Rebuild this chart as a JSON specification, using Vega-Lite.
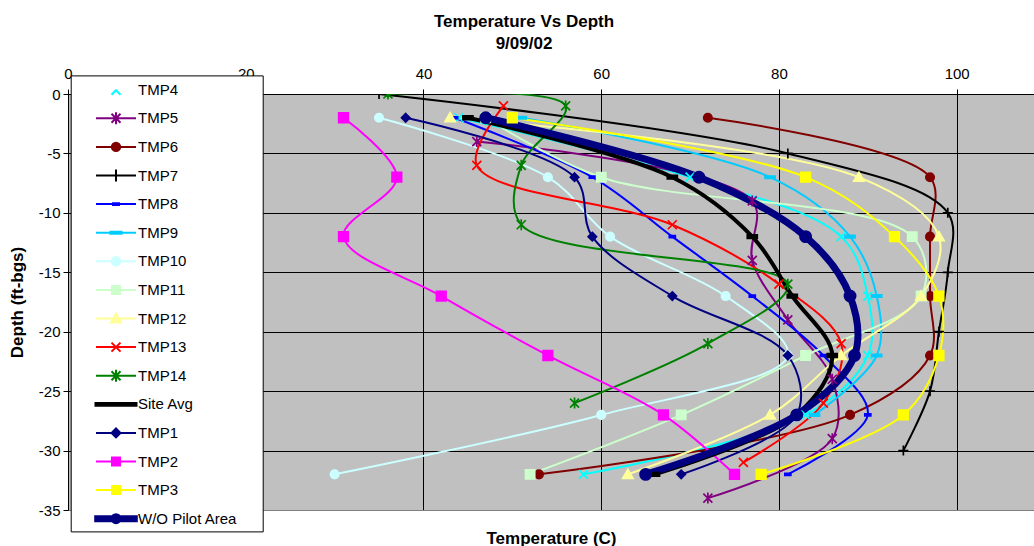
{
  "$schema": "https://vega.github.io/schema/vega-lite/v6.json",
  "autosize": {"type": "none"},
  "width": 966,
  "height": 416,
  "padding": {"left": 68, "top": 94, "right": 0, "bottom": 36},
  "background": "white",
  "config": {
    "font": "Liberation Sans",
    "view": {"fill": "#C0C0C0", "stroke": null}
  },
  "title": {
    "text": ["Temperature Vs Depth", "9/09/02"],
    "font": "Liberation Sans",
    "fontSize": 17,
    "fontWeight": "bold",
    "color": "black",
    "anchor": "middle",
    "frame": "group",
    "dx": -27,
    "lineHeight": 22,
    "offset": 13
  },
  "data": {
    "values": [
      {"s": "TMP4", "t": 44, "d": -2}, {"s": "TMP4", "t": 70, "d": -7}, {"s": "TMP4", "t": 87, "d": -12}, {"s": "TMP4", "t": 90, "d": -17}, {"s": "TMP4", "t": 90, "d": -22}, {"s": "TMP4", "t": 83, "d": -27}, {"s": "TMP4", "t": 58, "d": -32},
      {"s": "TMP5", "t": 46, "d": -4}, {"s": "TMP5", "t": 77, "d": -9}, {"s": "TMP5", "t": 77, "d": -14}, {"s": "TMP5", "t": 81, "d": -19}, {"s": "TMP5", "t": 86, "d": -24}, {"s": "TMP5", "t": 86, "d": -29}, {"s": "TMP5", "t": 72, "d": -34},
      {"s": "TMP6", "t": 72, "d": -2}, {"s": "TMP6", "t": 97, "d": -7}, {"s": "TMP6", "t": 97, "d": -12}, {"s": "TMP6", "t": 97, "d": -17}, {"s": "TMP6", "t": 97, "d": -22}, {"s": "TMP6", "t": 88, "d": -27}, {"s": "TMP6", "t": 53, "d": -32},
      {"s": "TMP7", "t": 35, "d": 0}, {"s": "TMP7", "t": 81, "d": -5}, {"s": "TMP7", "t": 99, "d": -10}, {"s": "TMP7", "t": 99, "d": -15}, {"s": "TMP7", "t": 98, "d": -20}, {"s": "TMP7", "t": 97, "d": -25}, {"s": "TMP7", "t": 94, "d": -30},
      {"s": "TMP8", "t": 43.5, "d": -2}, {"s": "TMP8", "t": 59, "d": -7}, {"s": "TMP8", "t": 68, "d": -12}, {"s": "TMP8", "t": 77, "d": -17}, {"s": "TMP8", "t": 85, "d": -22}, {"s": "TMP8", "t": 90, "d": -27}, {"s": "TMP8", "t": 81, "d": -32},
      {"s": "TMP9", "t": 51, "d": -2}, {"s": "TMP9", "t": 79, "d": -7}, {"s": "TMP9", "t": 88, "d": -12}, {"s": "TMP9", "t": 91, "d": -17}, {"s": "TMP9", "t": 91, "d": -22}, {"s": "TMP9", "t": 84, "d": -27},
      {"s": "TMP10", "t": 35, "d": -2}, {"s": "TMP10", "t": 54, "d": -7}, {"s": "TMP10", "t": 61, "d": -12}, {"s": "TMP10", "t": 74, "d": -17}, {"s": "TMP10", "t": 81, "d": -22}, {"s": "TMP10", "t": 60, "d": -27}, {"s": "TMP10", "t": 30, "d": -32},
      {"s": "TMP11", "t": 47, "d": -2}, {"s": "TMP11", "t": 60, "d": -7}, {"s": "TMP11", "t": 95, "d": -12}, {"s": "TMP11", "t": 96, "d": -17}, {"s": "TMP11", "t": 83, "d": -22}, {"s": "TMP11", "t": 69, "d": -27}, {"s": "TMP11", "t": 52, "d": -32},
      {"s": "TMP12", "t": 43, "d": -2}, {"s": "TMP12", "t": 89, "d": -7}, {"s": "TMP12", "t": 98, "d": -12}, {"s": "TMP12", "t": 96, "d": -17}, {"s": "TMP12", "t": 87, "d": -22}, {"s": "TMP12", "t": 79, "d": -27}, {"s": "TMP12", "t": 63, "d": -32},
      {"s": "TMP13", "t": 49, "d": -1}, {"s": "TMP13", "t": 46, "d": -6}, {"s": "TMP13", "t": 68, "d": -11}, {"s": "TMP13", "t": 80, "d": -16}, {"s": "TMP13", "t": 87, "d": -21}, {"s": "TMP13", "t": 85, "d": -26}, {"s": "TMP13", "t": 76, "d": -31},
      {"s": "TMP14", "t": 36, "d": 0}, {"s": "TMP14", "t": 56, "d": -1}, {"s": "TMP14", "t": 51, "d": -6}, {"s": "TMP14", "t": 51, "d": -11}, {"s": "TMP14", "t": 81, "d": -16}, {"s": "TMP14", "t": 72, "d": -21}, {"s": "TMP14", "t": 57, "d": -26},
      {"s": "Site Avg", "t": 45, "d": -2}, {"s": "Site Avg", "t": 68, "d": -7}, {"s": "Site Avg", "t": 77, "d": -12}, {"s": "Site Avg", "t": 81.5, "d": -17}, {"s": "Site Avg", "t": 86, "d": -22}, {"s": "Site Avg", "t": 82, "d": -27}, {"s": "Site Avg", "t": 66, "d": -32},
      {"s": "TMP1", "t": 38, "d": -2}, {"s": "TMP1", "t": 57, "d": -7}, {"s": "TMP1", "t": 59, "d": -12}, {"s": "TMP1", "t": 68, "d": -17}, {"s": "TMP1", "t": 81, "d": -22}, {"s": "TMP1", "t": 82, "d": -27}, {"s": "TMP1", "t": 69, "d": -32},
      {"s": "TMP2", "t": 31, "d": -2}, {"s": "TMP2", "t": 37, "d": -7}, {"s": "TMP2", "t": 31, "d": -12}, {"s": "TMP2", "t": 42, "d": -17}, {"s": "TMP2", "t": 54, "d": -22}, {"s": "TMP2", "t": 67, "d": -27}, {"s": "TMP2", "t": 75, "d": -32},
      {"s": "TMP3", "t": 50, "d": -2}, {"s": "TMP3", "t": 83, "d": -7}, {"s": "TMP3", "t": 93, "d": -12}, {"s": "TMP3", "t": 98, "d": -17}, {"s": "TMP3", "t": 98, "d": -22}, {"s": "TMP3", "t": 94, "d": -27}, {"s": "TMP3", "t": 78, "d": -32},
      {"s": "W/O Pilot Area", "t": 47, "d": -2}, {"s": "W/O Pilot Area", "t": 71, "d": -7}, {"s": "W/O Pilot Area", "t": 83, "d": -12}, {"s": "W/O Pilot Area", "t": 88, "d": -17}, {"s": "W/O Pilot Area", "t": 88.5, "d": -22}, {"s": "W/O Pilot Area", "t": 82, "d": -27}, {"s": "W/O Pilot Area", "t": 65, "d": -32}
    ]
  },
  "resolve": {"axis": {"x": "independent"}},
  "layer": [
    {
      "transform": [{"filter": {"field": "s", "oneOf": ["TMP4", "TMP5", "TMP6", "TMP7", "TMP8", "TMP9", "TMP10", "TMP11", "TMP12", "TMP13", "TMP14", "TMP1", "TMP2", "TMP3"]}}],
      "mark": {"type": "line", "interpolate": "catmull-rom", "clip": true, "strokeWidth": 2},
      "encoding": {
        "x": {
          "field": "t", "type": "quantitative",
          "scale": {"domain": [0, 108.7], "nice": false, "zero": false},
          "axis": {
            "orient": "top", "title": null, "values": [0, 20, 40, 60, 80, 100], "labelFlush": false,
            "grid": true, "gridColor": "black", "gridWidth": 1, "gridOpacity": 1,
            "domainColor": "black", "domainWidth": 1,
            "tickColor": "black", "tickSize": 5, "tickWidth": 1,
            "labelFont": "Liberation Sans", "labelFontSize": 15, "labelColor": "black", "labelPadding": 8
          }
        },
        "y": {
          "field": "d", "type": "quantitative",
          "scale": {"domain": [-35, 0], "nice": false, "zero": false},
          "axis": {
            "values": [0, -5, -10, -15, -20, -25, -30, -35],
            "labelExpr": "'' + datum.value", "labelFlush": false,
            "grid": true,
            "gridColor": {"condition": {"test": "datum.value === -35", "value": "#808080"}, "value": "black"},
            "gridWidth": 1, "gridOpacity": 1,
            "domainColor": "black", "domainWidth": 1,
            "tickColor": "black", "tickSize": 5, "tickWidth": 1,
            "labelFont": "Liberation Sans", "labelFontSize": 15, "labelColor": "black", "labelPadding": 3,
            "title": "Depth (ft-bgs)", "titleFont": "Liberation Sans", "titleFontSize": 17, "titleFontWeight": "bold", "titleColor": "black", "titlePadding": 12
          }
        },
        "order": {"field": "d", "sort": "descending"},
        "stroke": {
          "field": "s", "type": "nominal",
          "scale": {
            "domain": ["TMP4", "TMP5", "TMP6", "TMP7", "TMP8", "TMP9", "TMP10", "TMP11", "TMP12", "TMP13", "TMP14", "Site Avg", "TMP1", "TMP2", "TMP3", "W/O Pilot Area"],
            "range": ["#00FFFF", "#800080", "#800000", "#000000", "#0000FF", "#00CCFF", "#CCFFFF", "#CCFFCC", "#FFFF99", "#FF0000", "#008000", "#000000", "#000080", "#FF00FF", "#FFFF00", "#000080"]
          },
          "legend": {
            "orient": "none", "legendX": 2.7, "legendY": -18.6,
            "title": "\u2800", "titleOrient": "right", "titleFontSize": 1, "titlePadding": 21, "titleColor": "white",
            "fillColor": "white", "strokeColor": "black",
            "padding": 3.3,
            "symbolSize": 400, "symbolStrokeWidth": 2, "symbolOffset": 31,
            "labelOffset": 11, "labelFont": "Liberation Sans", "labelFontSize": 15, "labelColor": "black", "labelLimit": 300,
            "rowPadding": 7.6, "gridAlign": "all",
            "encode": {
              "symbols": {
                "update": {
                  "shape": {"signal": "{'TMP4':'M-0.45,0.5L0,0.05L0.45,0.5','TMP5':'M-2,0H2M-0.45,-0.45L0.45,0.45M-0.45,0.45L0.45,-0.45M0,-0.6V0.6','TMP6':'M-2,0H2M-0.42,0A0.42 0.42 0 1 1 0.42,0A0.42 0.42 0 1 1 -0.42,0Z','TMP7':'M-2,0H2M0,-0.6V0.6','TMP8':'M-2,0H2M-0.3,-0.08H0.3V0.08H-0.3Z','TMP9':'M-2,0H2M-0.55,-0.1H0.55V0.1H-0.55Z','TMP10':'M-2,0H2M-0.42,0A0.42 0.42 0 1 1 0.42,0A0.42 0.42 0 1 1 -0.42,0Z','TMP11':'M-2,0H2M-0.4,-0.4H0.4V0.4H-0.4Z','TMP12':'M-2,0H2M0,-0.5L0.5,0.4H-0.5Z','TMP13':'M-2,0H2M-0.45,-0.45L0.45,0.45M-0.45,0.45L0.45,-0.45','TMP14':'M-2,0H2M-0.45,-0.45L0.45,0.45M-0.45,0.45L0.45,-0.45M0,-0.6V0.6','Site Avg':'M-2.05,-0.14H2.05V0.14H-2.05Z','TMP1':'M-2,0H2M0,-0.45L0.45,0L0,0.45L-0.45,0Z','TMP2':'M-2,0H2M-0.4,-0.4H0.4V0.4H-0.4Z','TMP3':'M-2,0H2M-0.4,-0.4H0.4V0.4H-0.4Z','W/O Pilot Area':'M-2.08,-0.25H2.08V0.25H-2.08ZM-0.45,0A0.45 0.45 0 1 1 0.45,0A0.45 0.45 0 1 1 -0.45,0Z'}[datum.value]"},
                  "fill": {"signal": "{'TMP4':'transparent','TMP5':'transparent','TMP6':'#800000','TMP7':'transparent','TMP8':'#0000FF','TMP9':'#00CCFF','TMP10':'#CCFFFF','TMP11':'#CCFFCC','TMP12':'#FFFF99','TMP13':'transparent','TMP14':'transparent','Site Avg':'#000000','TMP1':'#000080','TMP2':'#FF00FF','TMP3':'#FFFF00','W/O Pilot Area':'#000080'}[datum.value]"}
                }
              }
            }
          }
        }
      }
    },
    {
      "transform": [{"filter": {"field": "s", "equal": "Site Avg"}}],
      "mark": {"type": "line", "interpolate": "catmull-rom", "clip": true, "strokeWidth": 4, "color": "#000000"},
      "encoding": {
        "x": {"field": "t", "type": "quantitative", "scale": {"domain": [0, 108.7], "nice": false, "zero": false}, "axis": null},
        "y": {"field": "d", "type": "quantitative", "scale": {"domain": [-35, 0], "nice": false, "zero": false}},
        "order": {"field": "d", "sort": "descending"}
      }
    },
    {
      "transform": [{"filter": {"field": "s", "equal": "W/O Pilot Area"}}],
      "mark": {"type": "line", "interpolate": "catmull-rom", "clip": true, "strokeWidth": 7, "color": "#000080"},
      "encoding": {
        "x": {"field": "t", "type": "quantitative", "scale": {"domain": [0, 108.7], "nice": false, "zero": false}, "axis": null},
        "y": {"field": "d", "type": "quantitative", "scale": {"domain": [-35, 0], "nice": false, "zero": false}},
        "order": {"field": "d", "sort": "descending"}
      }
    },
    {
      "mark": {"type": "point", "filled": false, "size": 400, "strokeWidth": 1.7, "opacity": 1, "clip": true},
      "encoding": {
        "x": {
          "field": "t", "type": "quantitative",
          "scale": {"domain": [0, 108.7], "nice": false, "zero": false},
          "axis": {
            "orient": "bottom", "labels": false, "ticks": false, "domain": false, "grid": false,
            "title": "Temperature (C)", "titleFont": "Liberation Sans", "titleFontSize": 17, "titleFontWeight": "bold", "titleColor": "black", "titlePadding": 20
          }
        },
        "y": {"field": "d", "type": "quantitative", "scale": {"domain": [-35, 0], "nice": false, "zero": false}},
        "color": {
          "field": "s", "type": "nominal",
          "scale": {
            "domain": ["W/O Pilot Area", "TMP3", "TMP2", "TMP1", "Site Avg", "TMP14", "TMP13", "TMP12", "TMP11", "TMP10", "TMP9", "TMP8", "TMP7", "TMP6", "TMP5", "TMP4"],
            "range": ["#000080", "#FFFF00", "#FF00FF", "#000080", "#000000", "#008000", "#FF0000", "#FFFF99", "#CCFFCC", "#CCFFFF", "#00CCFF", "#0000FF", "#000000", "#800000", "#800080", "#00FFFF"]
          },
          "legend": null
        },
        "fill": {
          "field": "s", "type": "nominal",
          "scale": {
            "domain": ["W/O Pilot Area", "TMP3", "TMP2", "TMP1", "Site Avg", "TMP14", "TMP13", "TMP12", "TMP11", "TMP10", "TMP9", "TMP8", "TMP7", "TMP6", "TMP5", "TMP4"],
            "range": ["#000080", "#FFFF00", "#FF00FF", "#000080", "#000000", "transparent", "transparent", "#FFFF99", "#CCFFCC", "#CCFFFF", "#00CCFF", "#0000FF", "transparent", "#800000", "transparent", "transparent"]
          },
          "legend": null
        },
        "shape": {
          "field": "s", "type": "nominal",
          "scale": {
            "domain": ["W/O Pilot Area", "TMP3", "TMP2", "TMP1", "Site Avg", "TMP14", "TMP13", "TMP12", "TMP11", "TMP10", "TMP9", "TMP8", "TMP7", "TMP6", "TMP5", "TMP4"],
            "range": [
              "M-0.56,0A0.56 0.56 0 1 0 0.56,0A0.56 0.56 0 1 0 -0.56,0Z",
              "M-0.48,-0.48H0.48V0.48H-0.48Z",
              "M-0.48,-0.48H0.48V0.48H-0.48Z",
              "M0,-0.42L0.42,0L0,0.42L-0.42,0Z",
              "M-0.5,-0.18H0.5V0.18H-0.5Z",
              "M-0.45,-0.45L0.45,0.45M-0.45,0.45L0.45,-0.45M0,-0.55V0.55",
              "M-0.45,-0.45L0.45,0.45M-0.45,0.45L0.45,-0.45",
              "M0,-0.5L0.52,0.4H-0.52Z",
              "M-0.46,-0.46H0.46V0.46H-0.46Z",
              "M-0.42,0A0.42 0.42 0 1 0 0.42,0A0.42 0.42 0 1 0 -0.42,0Z",
              "M-0.5,-0.12H0.5V0.12H-0.5Z",
              "M-0.3,-0.1H0.3V0.1H-0.3Z",
              "M-0.5,0H0.5M0,-0.5V0.5",
              "M-0.42,0A0.42 0.42 0 1 0 0.42,0A0.42 0.42 0 1 0 -0.42,0Z",
              "M-0.45,-0.45L0.45,0.45M-0.45,0.45L0.45,-0.45M0,-0.55V0.55",
              "M-0.45,-0.45L0.45,0.45M-0.45,0.45L0.45,-0.45"
            ]
          },
          "legend": null
        }
      }
    }
  ]
}
